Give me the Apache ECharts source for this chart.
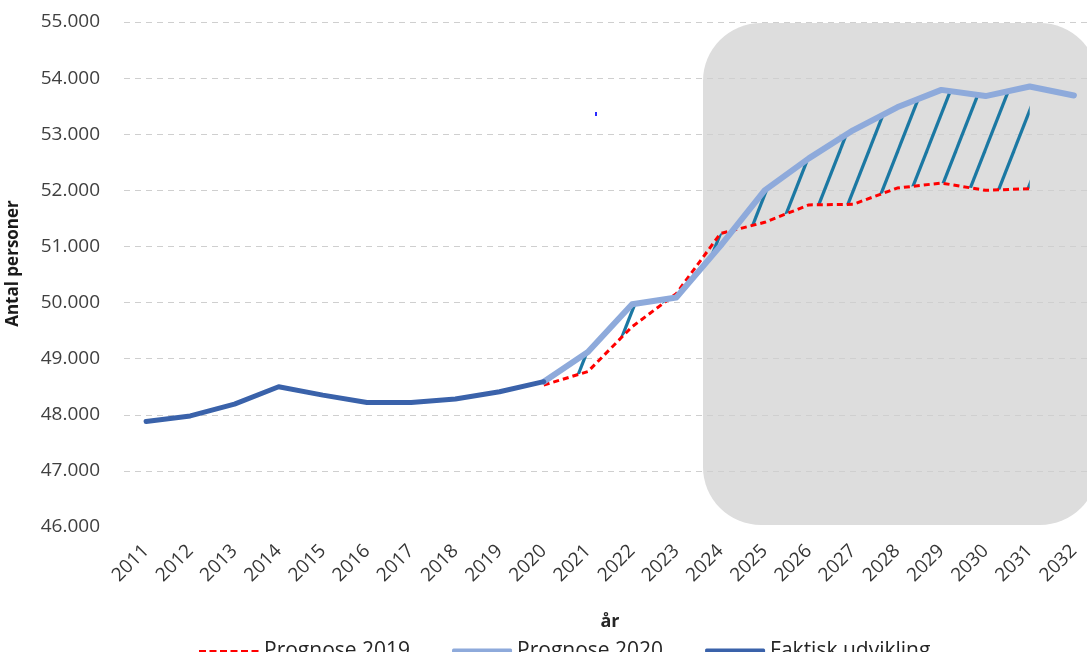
<!DOCTYPE html>
<html>
<head>
<meta charset="utf-8">
<script src="https://cdn.jsdelivr.net/npm/echarts@6/dist/echarts.min.js"></script>
<style>
html,body{margin:0;padding:0;background:#fff;}
#c{width:1087px;height:652px;}
</style>
</head>
<body>
<div id="c"></div>
<script>
// ---- data ----
var years = ['2011','2012','2013','2014','2015','2016','2017','2018','2019','2020','2021','2022','2023','2024','2025','2026','2027','2028','2029','2030','2031','2032'];
var faktisk = [47880, 47980, 48190, 48500, 48350, 48220, 48220, 48280, 48410, 48590, null, null, null, null, null, null, null, null, null, null, null, null];
var prognose2020 = [null, null, null, null, null, null, null, null, null, 48590, 49120, 49970, 50090, 51010, 52000, 52570, 53070, 53480, 53790, 53680, 53850, 53690];
var prognose2019 = [null, null, null, null, null, null, null, null, null, 48530, 48770, 49570, 50160, 51230, 51430, 51740, 51750, 52040, 52130, 52000, 52030, null];
var seriesNames = ['Prognose 2019', 'Prognose 2020', 'Faktisk udvikling'];
var yMin = 46000, yMax = 55000, yStep = 1000;

// hatch band between the two forecasts (derived)
var bandBase = prognose2019.map(function (v, i) { return (v != null && prognose2020[i] != null) ? v : null; });
var bandDiff = prognose2019.map(function (v, i) { return (v != null && prognose2020[i] != null) ? prognose2020[i] - v : null; });

// hatch pattern
var pc = document.createElement('canvas');
var pw = 29, ph = 74;
pc.width = pw; pc.height = ph;
var pctx = pc.getContext('2d');
pctx.strokeStyle = '#1B78A3';
pctx.lineWidth = 3.2;
for (var k = -1; k <= 1; k++) {
  pctx.beginPath();
  pctx.moveTo(k * pw - pw, ph * 2);
  pctx.lineTo(k * pw + 2 * pw, -ph);
  pctx.stroke();
}

// legend icons (60 x 6 box)
var dashIcon = 'path://M0,-1.5L0.01,-1.5L0.01,4.5L0,4.5Z';
for (var d = 0; d < 6; d++) {
  var x0 = d * 10.5;
  dashIcon += 'M' + x0 + ',0L' + (x0 + 7) + ',0L' + (x0 + 7) + ',3L' + x0 + ',3Z';
}
dashIcon += 'M59.99,-1.5L60,-1.5L60,4.5L59.99,4.5Z';
var solidIcon = 'roundRect';

var FONT = 'Open Sans';
var chart = echarts.init(document.getElementById('c'));
chart.setOption({
  animation: false,
  backgroundColor: '#ffffff',
  textStyle: { fontFamily: FONT },
  grid: { left: 124, top: 22, bottom: 125, width: 972, containLabel: false, outerBoundsMode: 'none' },
  graphic: [
    { type: 'rect', z: -10, silent: true, shape: { x: 703, y: 23, width: 395, height: 502, r: 58 }, style: { fill: '#dddddd' } },
    { type: 'rect', z: 50, silent: true, shape: { x: 595, y: 112, width: 2, height: 4 }, style: { fill: '#2a2aff' } }
  ],
  legend: {
    data: [
      { name: seriesNames[0], icon: dashIcon },
      { name: seriesNames[1], icon: solidIcon },
      { name: seriesNames[2], icon: solidIcon }
    ],
    left: 194, top: 636,
    itemWidth: 60, itemHeight: 6, itemGap: 42,
    textStyle: { fontSize: 21, color: '#262626', fontFamily: FONT }
  },
  xAxis: {
    type: 'category',
    data: years,
    boundaryGap: true,
    name: 'år',
    nameLocation: 'middle',
    nameGap: 86,
    nameTextStyle: { fontSize: 18, fontWeight: 'bold', color: '#262626', fontFamily: FONT },
    axisLine: { show: false },
    axisTick: { show: false },
    axisLabel: { rotate: 45, margin: 21, fontSize: 19, color: '#363636', fontFamily: FONT, interval: 0 },
    splitLine: { show: false }
  },
  yAxis: {
    type: 'value',
    min: yMin, max: yMax, interval: yStep,
    name: 'Antal personer',
    nameLocation: 'middle',
    nameGap: 102,
    nameRotate: 90,
    nameTextStyle: { fontSize: 17, fontWeight: 'bold', color: '#1a1a1a', fontFamily: FONT, padding: [0, 0, 0, 22] },
    axisLine: { show: false },
    axisTick: { show: false },
    axisLabel: { margin: 24, fontSize: 19, color: '#404040', fontFamily: FONT,
      formatter: function (v) { return (v / 1000).toFixed(3); } },
    splitLine: { show: true, showMinLine: false, lineStyle: { color: '#cfcfcf', width: 1, type: [6, 5] } }
  },
  series: [
    { name: 'band-base', type: 'line', data: bandBase, stack: 'band', stackStrategy: 'all',
      symbol: 'none', lineStyle: { opacity: 0 }, z: 1, silent: true },
    { name: 'band-diff', type: 'line', data: bandDiff, stack: 'band', stackStrategy: 'all',
      symbol: 'none', lineStyle: { opacity: 0 }, z: 1, silent: true,
      areaStyle: { color: { image: pc, repeat: 'repeat' }, opacity: 1 } },
    { name: 'Prognose 2019', type: 'line', data: prognose2019, symbol: 'none', z: 3,
      itemStyle: { color: '#ff0000' },
      lineStyle: { color: '#ff0000', width: 3, type: [6, 4] } },
    { name: 'Prognose 2020', type: 'line', data: prognose2020, symbol: 'none', z: 4,
      itemStyle: { color: '#8eaadb' },
      lineStyle: { color: '#8eaadb', width: 6, cap: 'round', join: 'round' } },
    { name: 'Faktisk udvikling', type: 'line', data: faktisk, symbol: 'none', z: 5,
      itemStyle: { color: '#3a62aa' },
      lineStyle: { color: '#3a62aa', width: 5, cap: 'round', join: 'round' } }
  ]
});
</script>
</body>
</html>
